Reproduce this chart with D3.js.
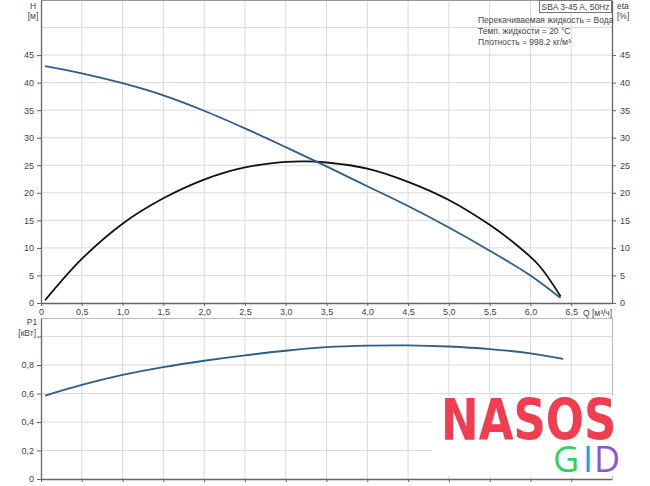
<!DOCTYPE html>
<html>
<head>
<meta charset="utf-8">
<script src="https://cdn.jsdelivr.net/npm/d3@7"></script>
<style>
  body { margin: 0; background: #fff; }
  text { font-family: "Liberation Sans", Arial, sans-serif; fill: #444; }
</style>
</head>
<body>
<div class="graph-section"></div>
<script>
// data
var headQ   = [0.05, 0.5, 1.0, 1.5, 2.0, 2.5, 3.0, 3.5, 4.0, 4.5, 5.0, 5.5, 6.0, 6.37];
var headH   = [43.0, 41.7, 39.9, 37.7, 34.9, 31.7, 28.3, 24.8, 21.2, 17.6, 13.7, 9.5, 5.0, 0.9];
var effQ    = [0.05, 0.5, 1.0, 1.5, 2.0, 2.5, 3.0, 3.25, 3.5, 4.0, 4.5, 5.0, 5.5, 5.8, 6.1, 6.37];
var effEta  = [0.5, 8.0, 14.4, 19.0, 22.4, 24.6, 25.6, 25.7, 25.5, 24.4, 22.0, 18.7, 14.2, 10.9, 6.9, 1.2];
var powerQ  = [0.05, 0.5, 1.0, 1.5, 2.0, 2.5, 3.0, 3.5, 4.0, 4.5, 5.0, 5.5, 6.0, 6.4];
var powerP1 = [0.585, 0.66, 0.73, 0.785, 0.83, 0.868, 0.9, 0.925, 0.936, 0.938, 0.93, 0.912, 0.882, 0.843];

var qTicks  = [0, 0.5, 1, 1.5, 2, 2.5, 3, 3.5, 4, 4.5, 5, 5.5, 6, 6.5];
var hTicks  = [0, 5, 10, 15, 20, 25, 30, 35, 40, 45];
var pTicks  = [0, 0.2, 0.4, 0.6, 0.8];

var infoLines = ["Перекачиваемая жидкость = Вода", "Темп. жидкости = 20 °C", "Плотность = 998.2 кг/м³"];

var screen = {width: 650, height: 486};
var upper = {left: 41, right: 612, top: 0, bottom: 303};
var lower = {left: 41, right: 612, top: 318, bottom: 479};

var ru = d3.formatLocale({decimal: ",", thousands: " ", grouping: [3], currency: ["", ""]});
var fmt1 = ru.format(".1f");
var fmtNum = function(d){ return d === 0 ? "0" : fmt1(d); };

var svg = d3.select(".graph-section")
  .append("svg")
  .attr("width", screen.width)
  .attr("height", screen.height);

var xScale = d3.scaleLinear().domain([0, 7]).range([upper.left, upper.right]);
var yH = d3.scaleLinear().domain([0, 55]).range([upper.bottom, upper.top]);
var yP = d3.scaleLinear().domain([0, 1.13]).range([lower.bottom, lower.top]);

var gridColor = "#dadada";
var axisColor = "#666";

// grid
function vGrid(top, bottom){
  svg.append("g").selectAll("line")
    .data(qTicks.filter(function(d){ return d > 0; }))
    .enter().append("line")
    .attr("x1", function(d){ return xScale(d); })
    .attr("x2", function(d){ return xScale(d); })
    .attr("y1", top).attr("y2", bottom)
    .attr("stroke", gridColor).attr("stroke-width", 1);
}
vGrid(upper.top, upper.bottom);
vGrid(lower.top, lower.bottom);

svg.append("g").selectAll("line")
  .data(hTicks.slice(1).concat([50]))
  .enter().append("line")
  .attr("x1", upper.left).attr("x2", upper.right)
  .attr("y1", function(d){ return yH(d); })
  .attr("y2", function(d){ return yH(d); })
  .attr("stroke", gridColor);

svg.append("g").selectAll("line")
  .data(pTicks.slice(1).concat([1.0]))
  .enter().append("line")
  .attr("x1", lower.left).attr("x2", lower.right)
  .attr("y1", function(d){ return yP(d); })
  .attr("y2", function(d){ return yP(d); })
  .attr("stroke", gridColor);

// frames
svg.append("line").attr("x1", upper.left).attr("x2", upper.right)
  .attr("y1", 0.5).attr("y2", 0.5).attr("stroke", "#999");
svg.append("line").attr("x1", lower.left).attr("x2", lower.right)
  .attr("y1", lower.top + 0.5).attr("y2", lower.top + 0.5).attr("stroke", "#bbb");
svg.append("line").attr("x1", lower.right + 0.5).attr("x2", lower.right + 0.5)
  .attr("y1", lower.top).attr("y2", lower.bottom).attr("stroke", "#bbb");

// axes
function styleAxis(g){
  g.select(".domain").attr("stroke", axisColor).attr("stroke-width", 1.3);
  g.selectAll(".tick line").attr("stroke", axisColor);
  g.selectAll(".tick text").style("font-size", "9px").attr("fill", "#444");
}

svg.append("g")
  .attr("transform", "translate(0," + upper.bottom + ")")
  .call(d3.axisBottom(xScale).tickValues(qTicks).tickFormat(fmtNum).tickSize(3).tickSizeOuter(0).tickPadding(3))
  .call(styleAxis);

svg.append("g")
  .attr("transform", "translate(" + upper.left + ",0)")
  .call(d3.axisLeft(yH).tickValues(hTicks).tickSize(4).tickSizeOuter(0).tickPadding(3))
  .call(styleAxis);

svg.append("g")
  .attr("transform", "translate(" + upper.right + ",0)")
  .call(d3.axisRight(yH).tickValues(hTicks).tickSize(4).tickSizeOuter(0).tickPadding(4))
  .call(styleAxis);

svg.append("g")
  .attr("transform", "translate(" + lower.left + ",0)")
  .call(d3.axisLeft(yP).tickValues(pTicks.concat([1.0])).tickFormat(function(d){ return d === 1 ? "" : fmtNum(d); }).tickSize(4).tickSizeOuter(0).tickPadding(3))
  .call(styleAxis);

svg.append("g")
  .attr("transform", "translate(0," + lower.bottom + ")")
  .call(d3.axisBottom(xScale).tickValues(qTicks).tickFormat("").tickSize(3).tickSizeOuter(0))
  .call(styleAxis);

// axis titles
function label(x, y, t, anchor){
  svg.append("text").attr("x", x).attr("y", y).attr("text-anchor", anchor || "start")
    .style("font-size", "8.5px").text(t);
}
label(33, 9, "H", "middle");
label(33, 19, "[м]", "middle");
label(32, 325, "P1", "middle");
label(36, 336, "[кВт]", "end");
label(617, 9, "eta");
label(617, 19, "[%]");
label(583, 316, "Q [м³/ч]");

// info block
svg.append("rect").attr("x", 539.5).attr("y", 0.5).attr("width", 72).attr("height", 12)
  .attr("fill", "#fff").attr("stroke", "#777");
svg.append("text").attr("x", 575.5).attr("y", 9.5).attr("text-anchor", "middle")
  .style("font-size", "8.5px").text("SBA 3-45 A, 50Hz");
svg.append("g").selectAll("text")
  .data(infoLines).enter().append("text")
  .attr("x", 478).attr("y", function(d, i){ return 23 + i * 11; })
  .style("font-size", "8.5px").text(function(d){ return d; });

// curves
var lineH = d3.line().curve(d3.curveCatmullRom)
  .x(function(d, i){ return xScale(headQ[i]); })
  .y(function(d){ return yH(d); });
var lineEta = d3.line().curve(d3.curveCatmullRom)
  .x(function(d, i){ return xScale(effQ[i]); })
  .y(function(d){ return yH(d); });
var lineP = d3.line().curve(d3.curveCatmullRom)
  .x(function(d, i){ return xScale(powerQ[i]); })
  .y(function(d){ return yP(d); });

svg.append("path").datum(effEta).attr("d", lineEta)
  .attr("fill", "none").attr("stroke", "#111").attr("stroke-width", 1.8);
svg.append("path").datum(headH).attr("d", lineH)
  .attr("fill", "none").attr("stroke", "#2d5f86").attr("stroke-width", 1.8);
svg.append("path").datum(powerP1).attr("d", lineP)
  .attr("fill", "none").attr("stroke", "#2d5f86").attr("stroke-width", 1.8);

// watermark logo
var logo = svg.append("g");
logo.append("rect").attr("x", 432).attr("y", 396).attr("width", 190).attr("height", 80).attr("fill", "#fff");
logo.append("text").attr("transform", "translate(441,440) scale(1,1.28)")
  .style("font-family", "'DejaVu Sans', sans-serif").style("font-weight", "bold")
  .style("font-size", "45px").style("fill", "#f03d50").text("NASOS");
var gid = [{t: "G", x: 553, c: "#2fd16a"}, {t: "I", x: 583, c: "#2a9be0"}, {t: "D", x: 594, c: "#8c57d6"}];
logo.selectAll(".gid").data(gid).enter().append("text")
  .attr("x", function(d){ return d.x; }).attr("y", 472)
  .style("font-family", "'Open Sans', sans-serif").style("font-size", "36px")
  .style("fill", function(d){ return d.c; }).text(function(d){ return d.t; });
</script>
</body>
</html>
